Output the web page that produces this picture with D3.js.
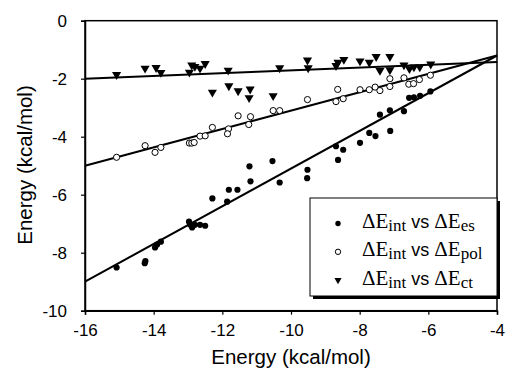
<!DOCTYPE html>
<html>
<head>
<meta charset="utf-8">
<script src="https://cdn.jsdelivr.net/npm/d3@7.9.0/dist/d3.min.js"></script>
<style>
  body { margin: 0; background: #fff; }
  svg { display: block; }
</style>
</head>
<body>
<svg id="chart" width="507" height="377"></svg>
<script>
// ΔEint vs ΔEes (filled circles)
const esX = [-15.08, -14.26, -14.24, -13.96, -13.90, -13.79, -12.97, -12.94, -12.88, -12.80, -12.65, -12.50,
  -12.29, -11.86, -11.81, -11.56, -11.21, -11.18, -10.54, -10.33, -9.52, -9.53, -8.69, -8.63, -8.48,
  -7.99, -7.72, -7.54, -7.41, -7.11, -7.12, -6.71, -6.56, -6.42, -6.24, -5.94];
const esY = [-8.51, -8.36, -8.29, -7.82, -7.72, -7.62, -6.93, -7.03, -7.13, -7.04, -7.04, -7.07,
  -6.13, -6.24, -5.83, -5.83, -5.02, -5.54, -4.84, -5.58, -5.14, -5.43, -4.33, -4.80, -4.45,
  -4.21, -3.87, -3.98, -3.24, -3.80, -3.09, -3.12, -2.66, -2.64, -2.59, -2.44];

// ΔEint vs ΔEpol (open circles)
const polX = [-15.08, -14.25, -13.96, -13.79, -12.96, -12.89, -12.82, -12.65, -12.50, -12.29, -11.82, -11.85,
  -11.54, -11.18, -11.23, -10.52, -10.33, -9.52, -8.69, -8.64, -8.48, -7.99, -7.72, -7.55, -7.41,
  -7.12, -7.12, -6.71, -6.57, -6.43, -6.26, -5.94];
const polY = [-4.71, -4.31, -4.54, -4.37, -4.22, -4.22, -4.20, -3.98, -3.97, -3.68, -3.73, -3.90,
  -3.28, -3.31, -3.58, -3.10, -3.10, -2.72, -2.79, -2.37, -2.69, -2.38, -2.38, -2.29, -2.41,
  -2.00, -2.27, -1.97, -2.19, -2.17, -2.03, -1.88];

// ΔEint vs ΔEct (triangles)
const ctX = [-15.08, -14.25, -13.93, -13.79, -12.96, -12.89, -12.80, -12.65, -12.50, -12.29, -11.83, -11.81,
  -11.54, -11.19, -11.22, -10.52, -10.33, -9.52, -9.50, -8.69, -8.63, -8.46, -7.99, -7.72, -7.52,
  -7.41, -7.12, -7.12, -6.71, -6.55, -6.42, -6.25, -5.93];
const ctY = [-1.86, -1.64, -1.62, -1.79, -1.78, -1.53, -1.58, -1.64, -1.48, -2.47, -1.71, -2.25,
  -2.42, -2.36, -2.66, -2.59, -1.63, -1.36, -1.63, -1.55, -1.44, -1.34, -1.39, -1.44, -1.24,
  -1.72, -1.24, -1.70, -1.53, -1.66, -1.60, -1.60, -1.50];

// trend lines, [x, y] at both ends of the axis
const esFit = [[-16, -9.0], [-4, -1.2]];
const polFit = [[-16, -5.0], [-4, -1.2]];
const ctFit = [[-16, -2.0], [-4, -1.42]];

const xTicks = [-16, -14, -12, -10, -8, -6, -4];
const yTicks = [0, -2, -4, -6, -8, -10];

const legendRows = [
  { sub1: 'int', sub2: 'es', mark: 'filled' },
  { sub1: 'int', sub2: 'pol', mark: 'open' },
  { sub1: 'int', sub2: 'ct', mark: 'tri' }
];

const svg = d3.select('#chart');
const x = d3.scaleLinear().domain([-16, -4]).range([85, 497]);
const y = d3.scaleLinear().domain([-10, 0]).range([310.7, 20.7]);

const sans = '"Liberation Sans", Arial, sans-serif';
const serif = '"Liberation Serif", "Times New Roman", serif';

// frame
svg.append('rect')
  .attr('x', x(-16)).attr('y', y(0))
  .attr('width', x(-4) - x(-16)).attr('height', y(-10) - y(0))
  .attr('fill', 'none').attr('stroke', '#000').attr('stroke-width', 1.5);

// axes
const xAxis = svg.append('g')
  .attr('transform', `translate(0,${y(-10)})`)
  .call(d3.axisBottom(x).tickValues(xTicks).tickSize(4).tickPadding(9).tickFormat(d => String(d)));
const yAxis = svg.append('g')
  .attr('transform', `translate(${x(-16)},0)`)
  .call(d3.axisLeft(y).tickValues(yTicks).tickSize(4).tickPadding(14).tickFormat(d => String(d)));

[xAxis, yAxis].forEach(g => {
  g.select('.domain').attr('stroke-width', 1.5);
  g.selectAll('.tick line').attr('stroke-width', 1.2);
  g.selectAll('text').attr('font-family', sans).attr('font-size', 17).attr('fill', '#000');
});

svg.append('text')
  .attr('x', 291).attr('y', 364)
  .attr('text-anchor', 'middle')
  .attr('font-family', sans).attr('font-size', 20.5)
  .text('Energy (kcal/mol)');

svg.append('text')
  .attr('transform', 'translate(32,165) rotate(-90)')
  .attr('text-anchor', 'middle')
  .attr('font-family', sans).attr('font-size', 20.5)
  .text('Energy (kcal/mol)');

// trend lines
const line = d3.line().x(d => x(d[0])).y(d => y(d[1]));
[esFit, polFit, ctFit].forEach(f => {
  svg.append('path').attr('d', line(f))
    .attr('fill', 'none').attr('stroke', '#000').attr('stroke-width', 2);
});

const triPath = d3.symbol().type(d3.symbolTriangle).size(36);

// points
svg.append('g').selectAll('circle')
  .data(esX.map((v, i) => [v, esY[i]]))
  .join('circle')
  .attr('cx', d => x(d[0])).attr('cy', d => y(d[1])).attr('r', 3.1)
  .attr('fill', '#000');

svg.append('g').selectAll('circle')
  .data(polX.map((v, i) => [v, polY[i]]))
  .join('circle')
  .attr('cx', d => x(d[0])).attr('cy', d => y(d[1])).attr('r', 3.1)
  .attr('fill', '#fff').attr('stroke', '#000').attr('stroke-width', 1);

svg.append('g').selectAll('path')
  .data(ctX.map((v, i) => [v, ctY[i]]))
  .join('path')
  .attr('d', triPath())
  .attr('transform', d => `translate(${x(d[0])},${y(d[1])}) rotate(180)`)
  .attr('fill', '#000');

// legend
const lg = svg.append('g');
lg.append('rect').attr('x', 313).attr('y', 201).attr('width', 187).attr('height', 98).attr('fill', '#000');
lg.append('rect').attr('x', 310).attr('y', 198).attr('width', 187).attr('height', 98)
  .attr('fill', '#fff').attr('stroke', '#000').attr('stroke-width', 1);

legendRows.forEach((r, i) => {
  const cy = 223.5 + i * 28.3;
  if (r.mark === 'filled') {
    lg.append('circle').attr('cx', 338).attr('cy', cy).attr('r', 2.7).attr('fill', '#000');
  } else if (r.mark === 'open') {
    lg.append('circle').attr('cx', 338).attr('cy', cy).attr('r', 2.7)
      .attr('fill', '#fff').attr('stroke', '#000').attr('stroke-width', 1);
  } else {
    lg.append('path').attr('d', d3.symbol().type(d3.symbolTriangle).size(22)())
      .attr('transform', `translate(338,${cy}) rotate(180)`).attr('fill', '#000');
  }
  const t = lg.append('text').attr('x', 362).attr('y', cy + 4.5)
    .attr('font-family', serif).attr('font-size', 21);
  t.append('tspan').text('ΔE');
  t.append('tspan').attr('font-size', 17).attr('dy', 3).text(r.sub1);
  t.append('tspan').attr('font-family', sans).attr('font-size', 18).attr('dy', -3).text(' vs ');
  t.append('tspan').text('ΔE');
  t.append('tspan').attr('font-size', 17).attr('dy', 3).text(r.sub2);
});
</script>
</body>
</html>
